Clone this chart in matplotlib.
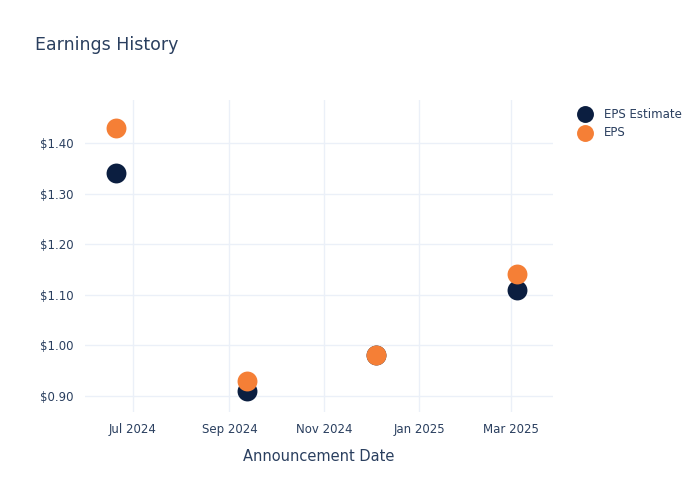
import pandas as pd
import matplotlib
matplotlib.use("Agg")
from matplotlib import pyplot as plt
import matplotlib.dates as mdates
from matplotlib.ticker import FuncFormatter

dates = pd.to_datetime(["2024-06-20", "2024-09-12", "2024-12-04", "2025-03-05"])
eps_estimate = [1.34, 0.91, 0.98, 1.11]
eps_actual = [1.43, 0.93, 0.98, 1.14]

TEXT = "#2a3f5f"
GRID = "#ebf0f8"

fig = plt.figure(figsize=(7, 5), dpi=100)
ax = fig.add_axes([0.121, 0.176, 0.669, 0.624])

ax.scatter(dates, eps_estimate, s=205, color="#0b1e40", label="EPS Estimate", zorder=3, linewidths=0)
ax.scatter(dates, eps_actual, s=205, color="#f57f36", label="EPS", zorder=4, linewidths=0)

ax.set_xlim(pd.Timestamp("2024-05-31"), pd.Timestamp("2025-03-28"))
ax.set_ylim(0.868, 1.485)

ax.xaxis.set_major_locator(mdates.MonthLocator(bymonth=[1, 3, 5, 7, 9, 11]))
ax.xaxis.set_major_formatter(mdates.DateFormatter("%b %Y"))
ax.set_yticks([0.9, 1.0, 1.1, 1.2, 1.3, 1.4])
ax.yaxis.set_major_formatter(FuncFormatter(lambda v, _: f"${v:.2f}"))

ax.grid(True, color=GRID, linewidth=1)
ax.set_axisbelow(True)
for sp in ax.spines.values():
    sp.set_visible(False)
ax.tick_params(length=0, colors=TEXT, labelsize=8.5, pad=8)

ax.set_xlabel("Announcement Date", color=TEXT, fontsize=10.5, labelpad=9)
fig.text(0.05, 0.9, "Earnings History", color=TEXT, fontsize=12.5)

leg = ax.legend(loc="upper left", bbox_to_anchor=(1.02, 1.01), frameon=False,
                fontsize=8.5, handletextpad=0.6, labelspacing=0.5, markerscale=0.85)
for t in leg.get_texts():
    t.set_color(TEXT)

fig.savefig("out.png", dpi=100)
